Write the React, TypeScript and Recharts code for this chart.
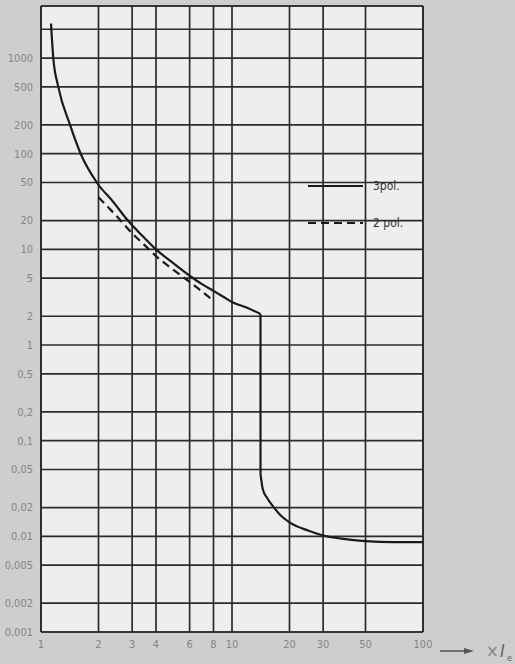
import React from "react";
import { LineChart, Line, XAxis, YAxis, CartesianGrid, ReferenceLine } from "recharts";

const xGridTicks = [1, 2, 3, 4, 6, 8, 10, 20, 30, 50, 100];
const xTickLabels = ["1", "2", "3", "4", "6", "8", "10", "20", "30", "50", "100"];

const yTicks = [0.001, 0.002, 0.005, 0.01, 0.02, 0.05, 0.1, 0.2, 0.5, 1, 2, 5, 10, 20, 50, 100, 200, 500, 1000, 2000];
const yTickLabels = ["0,001", "0,002", "0,005", "0,01", "0,02", "0,05", "0,1", "0,2", "0,5", "1", "2", "5", "10", "20", "50", "100", "200", "500", "1000", ""];

// 3-pole characteristic: upper (thermal) branch
const pol3UpperX = [1.128, 1.16, 1.232, 1.419, 1.613, 1.96, 2.4, 2.85, 3.4, 4.0, 5.0, 6.0, 7.0, 8.0, 9.0, 10.0, 12.0, 14.1];
const pol3UpperY = [2300, 1000, 500, 200, 100, 50, 31, 20, 13.8, 10, 7, 5.3, 4.3, 3.68, 3.2, 2.82, 2.45, 2.11];
// 3-pole: instantaneous trip step
const pol3StepX = [14.1, 14.1];
const pol3StepY = [2.11, 0.045];
// 3-pole: lower branch
const pol3LowerX = [14.1, 14.5, 15.3, 16.4, 18, 20, 25, 30, 40, 50, 70, 100];
const pol3LowerY = [0.045, 0.031, 0.025, 0.0206, 0.0165, 0.014, 0.0115, 0.0102, 0.0093, 0.0089, 0.0087, 0.0087];

// 2-pole characteristic
const pol2X = [2.0, 2.5, 3.0, 3.5, 4.0, 5.0, 6.0, 7.0, 8.0];
const pol2Y = [35, 22, 14.7, 11, 8.5, 6.0, 4.56, 3.6, 2.89];

const legendLabels = ["3pol.", "2 pol."];

const toData = (xs: number[], ys: number[]) => xs.map((x, i) => ({ x, y: ys[i] }));
const pol3Upper = toData(pol3UpperX, pol3UpperY);
const pol3Step = toData(pol3StepX, pol3StepY);
const pol3Lower = toData(pol3LowerX, pol3LowerY);
const pol2Data = toData(pol2X, pol2Y);

const FONT = "'DejaVu Sans Condensed', 'Liberation Sans Narrow', 'DejaVu Sans', sans-serif";
const GRID = "#2b2b2b";
const LABEL = "#858585";
const CURVE = "#1a1a1a";

export default function App() {
  const yLabel = (v: number) => {
    const i = yTicks.indexOf(v);
    return i >= 0 ? yTickLabels[i] : "";
  };
  const xLabel = (v: number) => {
    const i = xGridTicks.indexOf(v);
    return i >= 0 ? xTickLabels[i] : "";
  };
  return (
    <div style={{ position: "absolute", left: 0, top: 0, width: 515, height: 664, background: "#cecece", fontFamily: FONT }}>
      <LineChart width={515} height={664} margin={{ top: 6, right: 92, left: 0, bottom: 0 }}>
        <CartesianGrid fill="#eeeeee" stroke={GRID} strokeWidth={1.7} strokeOpacity={1} />
        <XAxis
          dataKey="x"
          type="number"
          scale="log"
          domain={[1, 100]}
          ticks={xGridTicks}
          tickFormatter={xLabel}
          allowDataOverflow
          height={32}
          tickLine={false}
          axisLine={{ stroke: GRID, strokeWidth: 1.7 }}
          tick={{ fill: LABEL, fontSize: 11, fontFamily: FONT }}
          tickMargin={2}
          interval={0}
        />
        <YAxis
          dataKey="y"
          type="number"
          scale="log"
          domain={[0.001, 3500]}
          ticks={yTicks}
          tickFormatter={yLabel}
          allowDataOverflow
          width={41}
          tickLine={false}
          axisLine={{ stroke: GRID, strokeWidth: 1.7 }}
          tick={{ fill: LABEL, fontSize: 11, fontFamily: FONT }}
          interval={0}
        />
        <ReferenceLine y={3500} stroke={GRID} strokeWidth={1.7} />
        <ReferenceLine x={100} stroke={GRID} strokeWidth={1.7} />
        <Line data={pol3Upper} dataKey="y" type="monotone" stroke={CURVE} strokeWidth={2.2} dot={false} isAnimationActive={false} />
        <Line data={pol3Step} dataKey="y" type="linear" stroke={CURVE} strokeWidth={2.2} dot={false} isAnimationActive={false} />
        <Line data={pol3Lower} dataKey="y" type="monotone" stroke={CURVE} strokeWidth={2.2} dot={false} isAnimationActive={false} />
        <Line data={pol2Data} dataKey="y" type="monotone" stroke={CURVE} strokeWidth={2.2} strokeDasharray="8 5" dot={false} isAnimationActive={false} />
      </LineChart>
      <svg style={{ position: "absolute", left: 0, top: 0 }} width={515} height={664}>
        <line x1={308} y1={186} x2={363} y2={186} stroke={CURVE} strokeWidth={2.2} />
        <text x={373} y={190} fontSize={12} fill="#333" fontFamily={FONT}>{legendLabels[0]}</text>
        <line x1={308} y1={223} x2={363} y2={223} stroke={CURVE} strokeWidth={2.2} strokeDasharray="8 5" />
        <text x={373} y={227} fontSize={12} fill="#333" fontFamily={FONT}>{legendLabels[1]}</text>
        <line x1={440} y1={651} x2={466} y2={651} stroke="#555" strokeWidth={1.5} />
        <polygon points="474,651 464,648 464,654" fill="#555" />
        <text x={486} y={657} fontSize={17} fill={LABEL} fontFamily={FONT}>×</text>
        <text x={500} y={657} fontSize={18} fill="#666" fontStyle="italic" fontFamily={FONT}>I</text>
        <text x={507} y={661} fontSize={9} fill="#666" fontFamily={FONT}>e</text>
      </svg>
    </div>
  );
}
